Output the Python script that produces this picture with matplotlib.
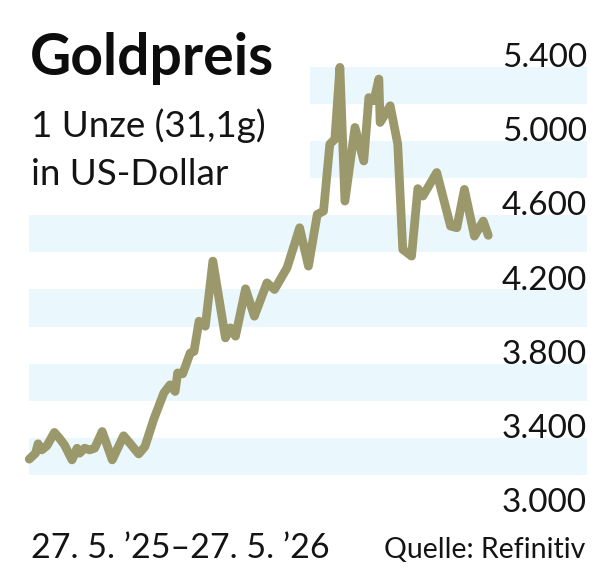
import matplotlib
matplotlib.use("Agg")
import matplotlib.pyplot as plt

# --- Daten: Tage seit 27.5.2025, Goldpreis in USD je Unze ---
days = [0, 5, 7, 10, 14, 20, 24, 28, 34, 38, 40, 44, 48, 52, 58, 66, 75, 80, 87, 92,
        99, 107, 112, 116, 118, 122, 128, 131, 135, 140, 146, 156, 160, 164, 172, 179,
        189, 195, 205, 215, 222, 229, 234, 239, 243, 247, 251, 259, 266, 270, 274, 278,
        279, 287, 293, 297, 304, 309, 313, 324, 335, 340, 346, 354, 361, 365]
price = [3285, 3317, 3368, 3335, 3357, 3429, 3398, 3362, 3281, 3344, 3317, 3344, 3335,
         3344, 3434, 3281, 3411, 3371, 3313, 3353, 3500, 3642, 3686, 3650, 3750, 3745,
         3858, 3866, 4029, 4002, 4353, 3939, 3993, 3948, 4204, 4056, 4236, 4200, 4317,
         4533, 4326, 4605, 4623, 4984, 5011, 5398, 4677, 5074, 4893, 5235, 5218, 5335,
         5101, 5191, 4984, 4416, 4380, 4744, 4704, 4831, 4542, 4533, 4740, 4488, 4569,
         4492]

y_ticks = [3000, 3400, 3800, 4200, 4600, 5000, 5400]
y_labels = ["3.000", "3.400", "3.800", "4.200", "4.600", "5.000", "5.400"]
bands = [(3200, 3400), (3600, 3800), (4000, 4200), (4400, 4600), (4800, 5000), (5200, 5400)]

title = "Goldpreis"
subtitle_1 = "1 Unze (31,1g)"
subtitle_2 = "in US-Dollar"
period = "27. 5. \u201925\u201327. 5. \u201926"
source = "Quelle: Refinitiv"

LINE = "#9b996b"
BAND = "#eaf7fd"
FONT = "Lato"
TXT = "#141414"

fig = plt.figure(figsize=(6.16, 5.83), dpi=100)
ax = fig.add_axes([28.5 / 616, 1 - 512 / 583, (587 - 28.5) / 616, (512 - 67) / 583])
ax.set_xlim(-0.6, 443.5)
ax.set_ylim(3000, 5400)

# Hintergrundstreifen (oben rechts neben dem Titel erst ab Mitte)
for lo, hi in bands:
    xmin = 0.504 if lo >= 4800 else 0.0
    ax.axhspan(lo, hi, xmin=xmin, xmax=1, color=BAND, lw=0, zorder=0)

ax.plot(days, price, color=LINE, lw=6.3, solid_joinstyle="round",
        solid_capstyle="round", clip_on=False, zorder=3)

ax.set_axis_off()

# Achsenbeschriftung rechts, Grundlinie auf dem Wert
for v, lab in zip(y_ticks, y_labels):
    ax.text(1.0, v, lab, transform=ax.get_yaxis_transform(), ha="right",
            va="baseline", fontsize=24, family=FONT, color=TXT, zorder=4)

fig.text(30 / 616, 1 - 75 / 583, title, fontsize=41, fontweight="bold",
         family=FONT, color="#0d0d0d", va="baseline")
fig.text(31 / 616, 1 - 137 / 583, subtitle_1, fontsize=26.5, family=FONT,
         color=TXT, va="baseline")
fig.text(31 / 616, 1 - 185 / 583, subtitle_2, fontsize=26.5, family=FONT,
         color=TXT, va="baseline")
fig.text(31 / 616, 1 - 558 / 583, period, fontsize=24.5, family=FONT,
         color=TXT, va="baseline")
fig.text(585 / 616, 1 - 558 / 583, source, fontsize=20.5, family=FONT,
         color=TXT, va="baseline", ha="right")

fig.savefig("out.png", dpi=100, facecolor="white")
